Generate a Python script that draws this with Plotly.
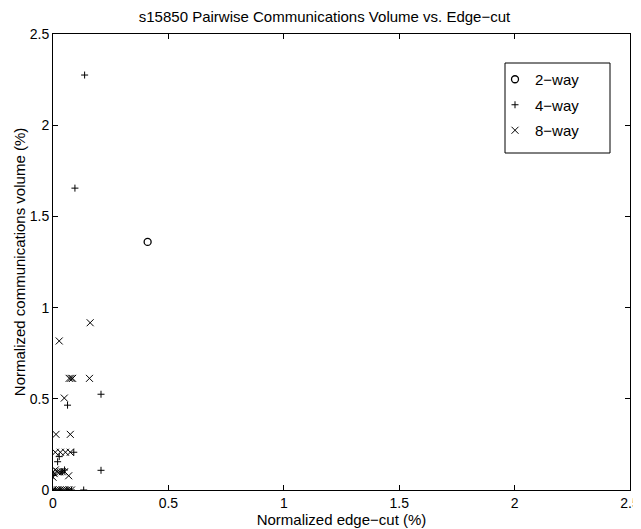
import plotly.graph_objects as go

# 2-way
x2 = [0.41]
y2 = [1.36]

# 4-way
x4 = [0.137, 0.095, 0.208, 0.063, 0.090, 0.208, 0.027, 0.020, 0.133, 0.040, 0.050, 0.000, 0.010, 0.030, 0.060, 0.080]
y4 = [2.275, 1.655, 0.525, 0.465, 0.207, 0.108, 0.183, 0.155, 0.000, 0.100, 0.110, 0.080, 0.000, 0.000, 0.000, 0.000]

# 8-way
x8 = [0.027, 0.161, 0.070, 0.078, 0.085, 0.158, 0.049, 0.013, 0.075, 0.010, 0.032, 0.054, 0.075, 0.068,
      0.000, 0.005, 0.010, 0.020, 0.030, 0.040, 0.050, 0.000,
      0.000, 0.010, 0.020, 0.030, 0.040, 0.050, 0.060, 0.070, 0.080]
y8 = [0.817, 0.917, 0.612, 0.612, 0.612, 0.612, 0.504, 0.305, 0.305, 0.207, 0.207, 0.207, 0.207, 0.078,
      0.100, 0.090, 0.110, 0.100, 0.100, 0.100, 0.100, 0.070,
      0.000, 0.000, 0.000, 0.000, 0.000, 0.000, 0.000, 0.000, 0.000]

ticks = [0, 0.5, 1, 1.5, 2, 2.5]
tick_text = ["0", "0.5", "1", "1.5", "2", "2.5"]

FONT = "Liberation Sans, Arial, sans-serif"

# the page body has an 8px margin, so the figure is drawn 8px smaller
W, H = 633, 521
ML, MR, MT, MB = 45, 11, 26, 39
PW, PH = W - ML - MR, H - MT - MB

fig = go.Figure()
fig.add_trace(go.Scatter(x=x2, y=y2, mode="markers", name="2\u2212way", legendgroup="a",
                         marker=dict(symbol="circle-open", size=7, color="black", line=dict(width=1.3, color="black"))))
fig.add_trace(go.Scatter(x=x4, y=y4, mode="markers", name="4\u2212way", legendgroup="b",
                         marker=dict(symbol="cross-thin-open", size=5, color="black", line=dict(width=1, color="black"))))
fig.add_trace(go.Scatter(x=x8, y=y8, mode="markers", name="8\u2212way", legendgroup="c",
                         marker=dict(symbol="x-thin-open", size=7, color="black", line=dict(width=1, color="black"))))

axis_common = dict(
    showgrid=False, zeroline=False, showline=True, linecolor="black", linewidth=1,
    mirror="ticks", ticks="inside", ticklen=5, tickcolor="black", automargin=False,
    tickfont=dict(family=FONT, size=14, color="black"),
    tickvals=ticks, ticktext=tick_text,
)

fig.update_layout(
    width=W, height=H,
    margin=dict(l=ML, r=MR, t=MT, b=MB),
    paper_bgcolor="white", plot_bgcolor="white",
    font=dict(family=FONT, size=15, color="black"),
    title=dict(text="s15850 Pairwise Communications Volume vs. Edge\u2212cut",
               x=0.5, xanchor="center", y=1 - 9 / H, yanchor="middle", yref="container",
               font=dict(family=FONT, size=15, color="black")),
    xaxis=dict(range=[0, 2.5], title=dict(text="Normalized edge\u2212cut (%)", standoff=0,
                                          font=dict(family=FONT, size=15)), **axis_common),
    yaxis=dict(range=[0, 2.5], title=dict(text="Normalized communications volume (%)", standoff=0,
                                          font=dict(family=FONT, size=15)), **axis_common),
    showlegend=True,
    legend=dict(x=(487 - ML) / PW, y=(482 - 55) / PH, xanchor="left", yanchor="top",
                bgcolor="rgba(0,0,0,0)", borderwidth=0, traceorder="grouped", tracegroupgap=3,
                font=dict(family=FONT, size=15, color="black")),
    shapes=[dict(type="rect", xref="paper", yref="paper",
                 x0=(497 - ML) / PW, x1=(602 - ML) / PW,
                 y0=(482 - 145) / PH, y1=(482 - 55) / PH,
                 line=dict(color="black", width=1), fillcolor="rgba(0,0,0,0)")],
)

fig.write_html("out.html")
